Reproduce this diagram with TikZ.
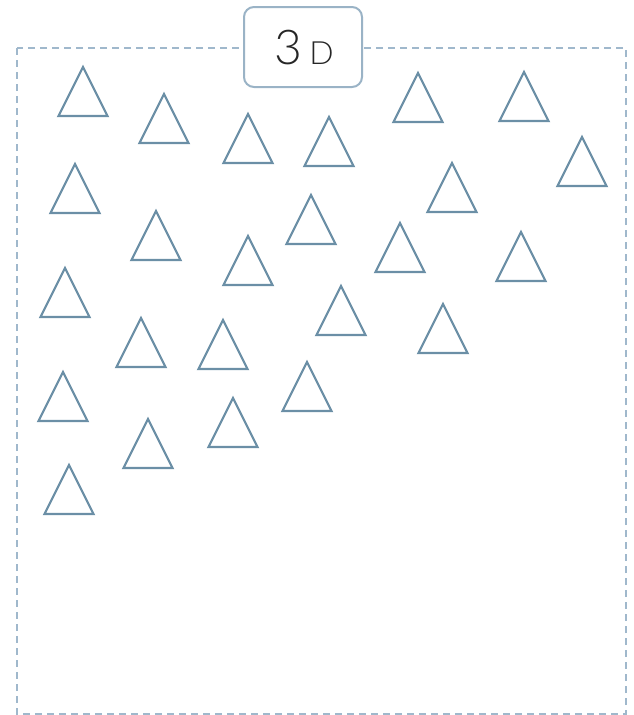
\documentclass[tikz,border=0pt]{standalone}
\usepackage{fontspec}
\setmainfont{Lato Light}
\begin{document}
\begin{tikzpicture}[x=1pt,y=-1pt,
  tri/.style={draw=triblue,line width=2.2pt,line join=miter},
  frame/.style={draw=frameblue,line width=1.6pt,dash pattern=on 7pt off 5pt},
  labelbox/.style={draw=boxblue,line width=2pt,rounded corners=10pt,fill=white,minimum width=118pt,minimum height=80pt,inner sep=0pt}]
\definecolor{triblue}{HTML}{6B8FA6}
\definecolor{frameblue}{HTML}{A0B8CC}
\definecolor{boxblue}{HTML}{9AB3C6}
\useasboundingbox (0,0) rectangle (634,715);
\draw[frame] (17,48) rectangle (626,714);
\foreach \x/\y [count=\i] in {83/67,164/94,248/114,329/117,418/73,524/72,582/137,
  75/164,156/211,248/236,311/195,452/163,400/223,521/232,
  65/268,141/318,223/320,341/286,443/304,
  63/372,148/419,233/398,307/362,69/465}{
  \draw[tri] (\x,\y) coordinate (t\i) -- ++(24.5,49) -- ++(-49,0) -- cycle;
}
\node[labelbox] (lbl) at (303,47) {};
\node[anchor=base,inner sep=0pt,text=black!85] (lbltext) at (304,64) {\fontsize{48}{48}\selectfont 3\hspace{7pt}\fontsize{32}{32}\selectfont D};
\end{tikzpicture}
\end{document}
